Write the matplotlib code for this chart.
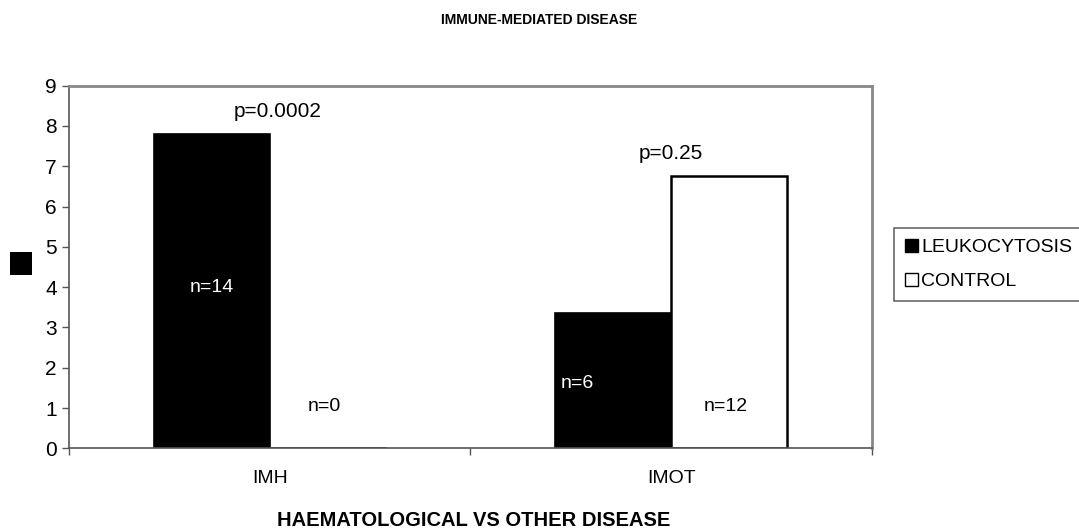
import matplotlib
matplotlib.use("Agg")
import matplotlib.pyplot as plt
from matplotlib.patches import Rectangle
import numpy as np

plt.rcParams['font.family'] = ['Liberation Sans', 'DejaVu Sans']

# data
categories = ['IMH', 'IMOT']
leukocytosis = [7.8, 3.35]
control = [0.0, 6.77]
p_values = ['p=0.0002', 'p=0.25']
n_leuk = ['n=14', 'n=6']
n_ctrl = ['n=0', 'n=12']
y_ticks = list(range(0, 10))

# where the labels sit (data units)
p_dx = [0.02, 0.0]
n_leuk_y = [4.0, 1.6]
n_ctrl_y = [1.05, 1.05]
n_leuk_dx = [0.0, -0.09]

fig = plt.figure(figsize=(10.79, 5.31), dpi=100)
ax = fig.add_axes([0.0642, 0.1557, 0.7437, 0.6829])

x = np.arange(len(categories))
w = 0.29
b1 = ax.bar(x - w / 2, leukocytosis, w, color='black', edgecolor='black',
            linewidth=1.2, label='LEUKOCYTOSIS')
b2 = ax.bar(x + w / 2, control, w, color='white', edgecolor='black',
            linewidth=1.8, label='CONTROL')

ax.set_xlim(-0.5, 1.5)
ax.set_ylim(0, 9)
ax.set_yticks(y_ticks)
ax.tick_params(axis='y', labelsize=15, length=5, width=1, color='#555555', pad=4)
ax.set_xticks([-0.5, 0.5, 1.5])
ax.set_xticklabels([])
ax.tick_params(axis='x', length=5, width=1, color='#555555')
for i, c in enumerate(categories):
    ax.text(x[i], -0.55, c, ha='center', va='top', fontsize=14)

for side in ['top', 'right']:
    ax.spines[side].set_color('#888888')
    ax.spines[side].set_linewidth(2)
for side in ['left', 'bottom']:
    ax.spines[side].set_color('#555555')
    ax.spines[side].set_linewidth(1.2)

# annotations
for i in range(len(categories)):
    top = max(leukocytosis[i], control[i])
    ax.text(x[i] + p_dx[i], top + 0.55, p_values[i], ha='center', va='center', fontsize=15)
    ax.text(x[i] - w / 2 + n_leuk_dx[i], n_leuk_y[i], n_leuk[i], ha='center', va='center',
            fontsize=14, color='white')
    ax.text(x[i] + w / 2 - 0.01, n_ctrl_y[i], n_ctrl[i], ha='center', va='center', fontsize=14)

fig.text(0.5, 1 - 20 / 531, 'IMMUNE-MEDIATED DISEASE', ha='center', va='center',
         fontsize=10, fontweight='bold')
fig.text(474 / 1079, 1 - 521 / 531, 'HAEMATOLOGICAL VS OTHER DISEASE', ha='center',
         va='center', fontsize=14.5, fontweight='bold')

# y-axis marker
fig.patches.append(Rectangle((10 / 1079, 1 - 275 / 531), 22 / 1079, 23 / 531,
                             transform=fig.transFigure, facecolor='black',
                             edgecolor='none'))

leg = fig.legend(handles=[b1, b2], loc='upper left', bbox_to_anchor=(894 / 1079, 1 - 228 / 531),
                 fontsize=14, frameon=True, fancybox=False, handlelength=0.7,
                 handleheight=0.7, handletextpad=0.15, labelspacing=0.85,
                 borderpad=0.55, borderaxespad=0)
leg.get_frame().set_edgecolor('#444444')
leg.get_frame().set_linewidth(1.2)
for h in leg.legend_handles:
    h.set_linewidth(1)

fig.savefig('out.png', dpi=100)
